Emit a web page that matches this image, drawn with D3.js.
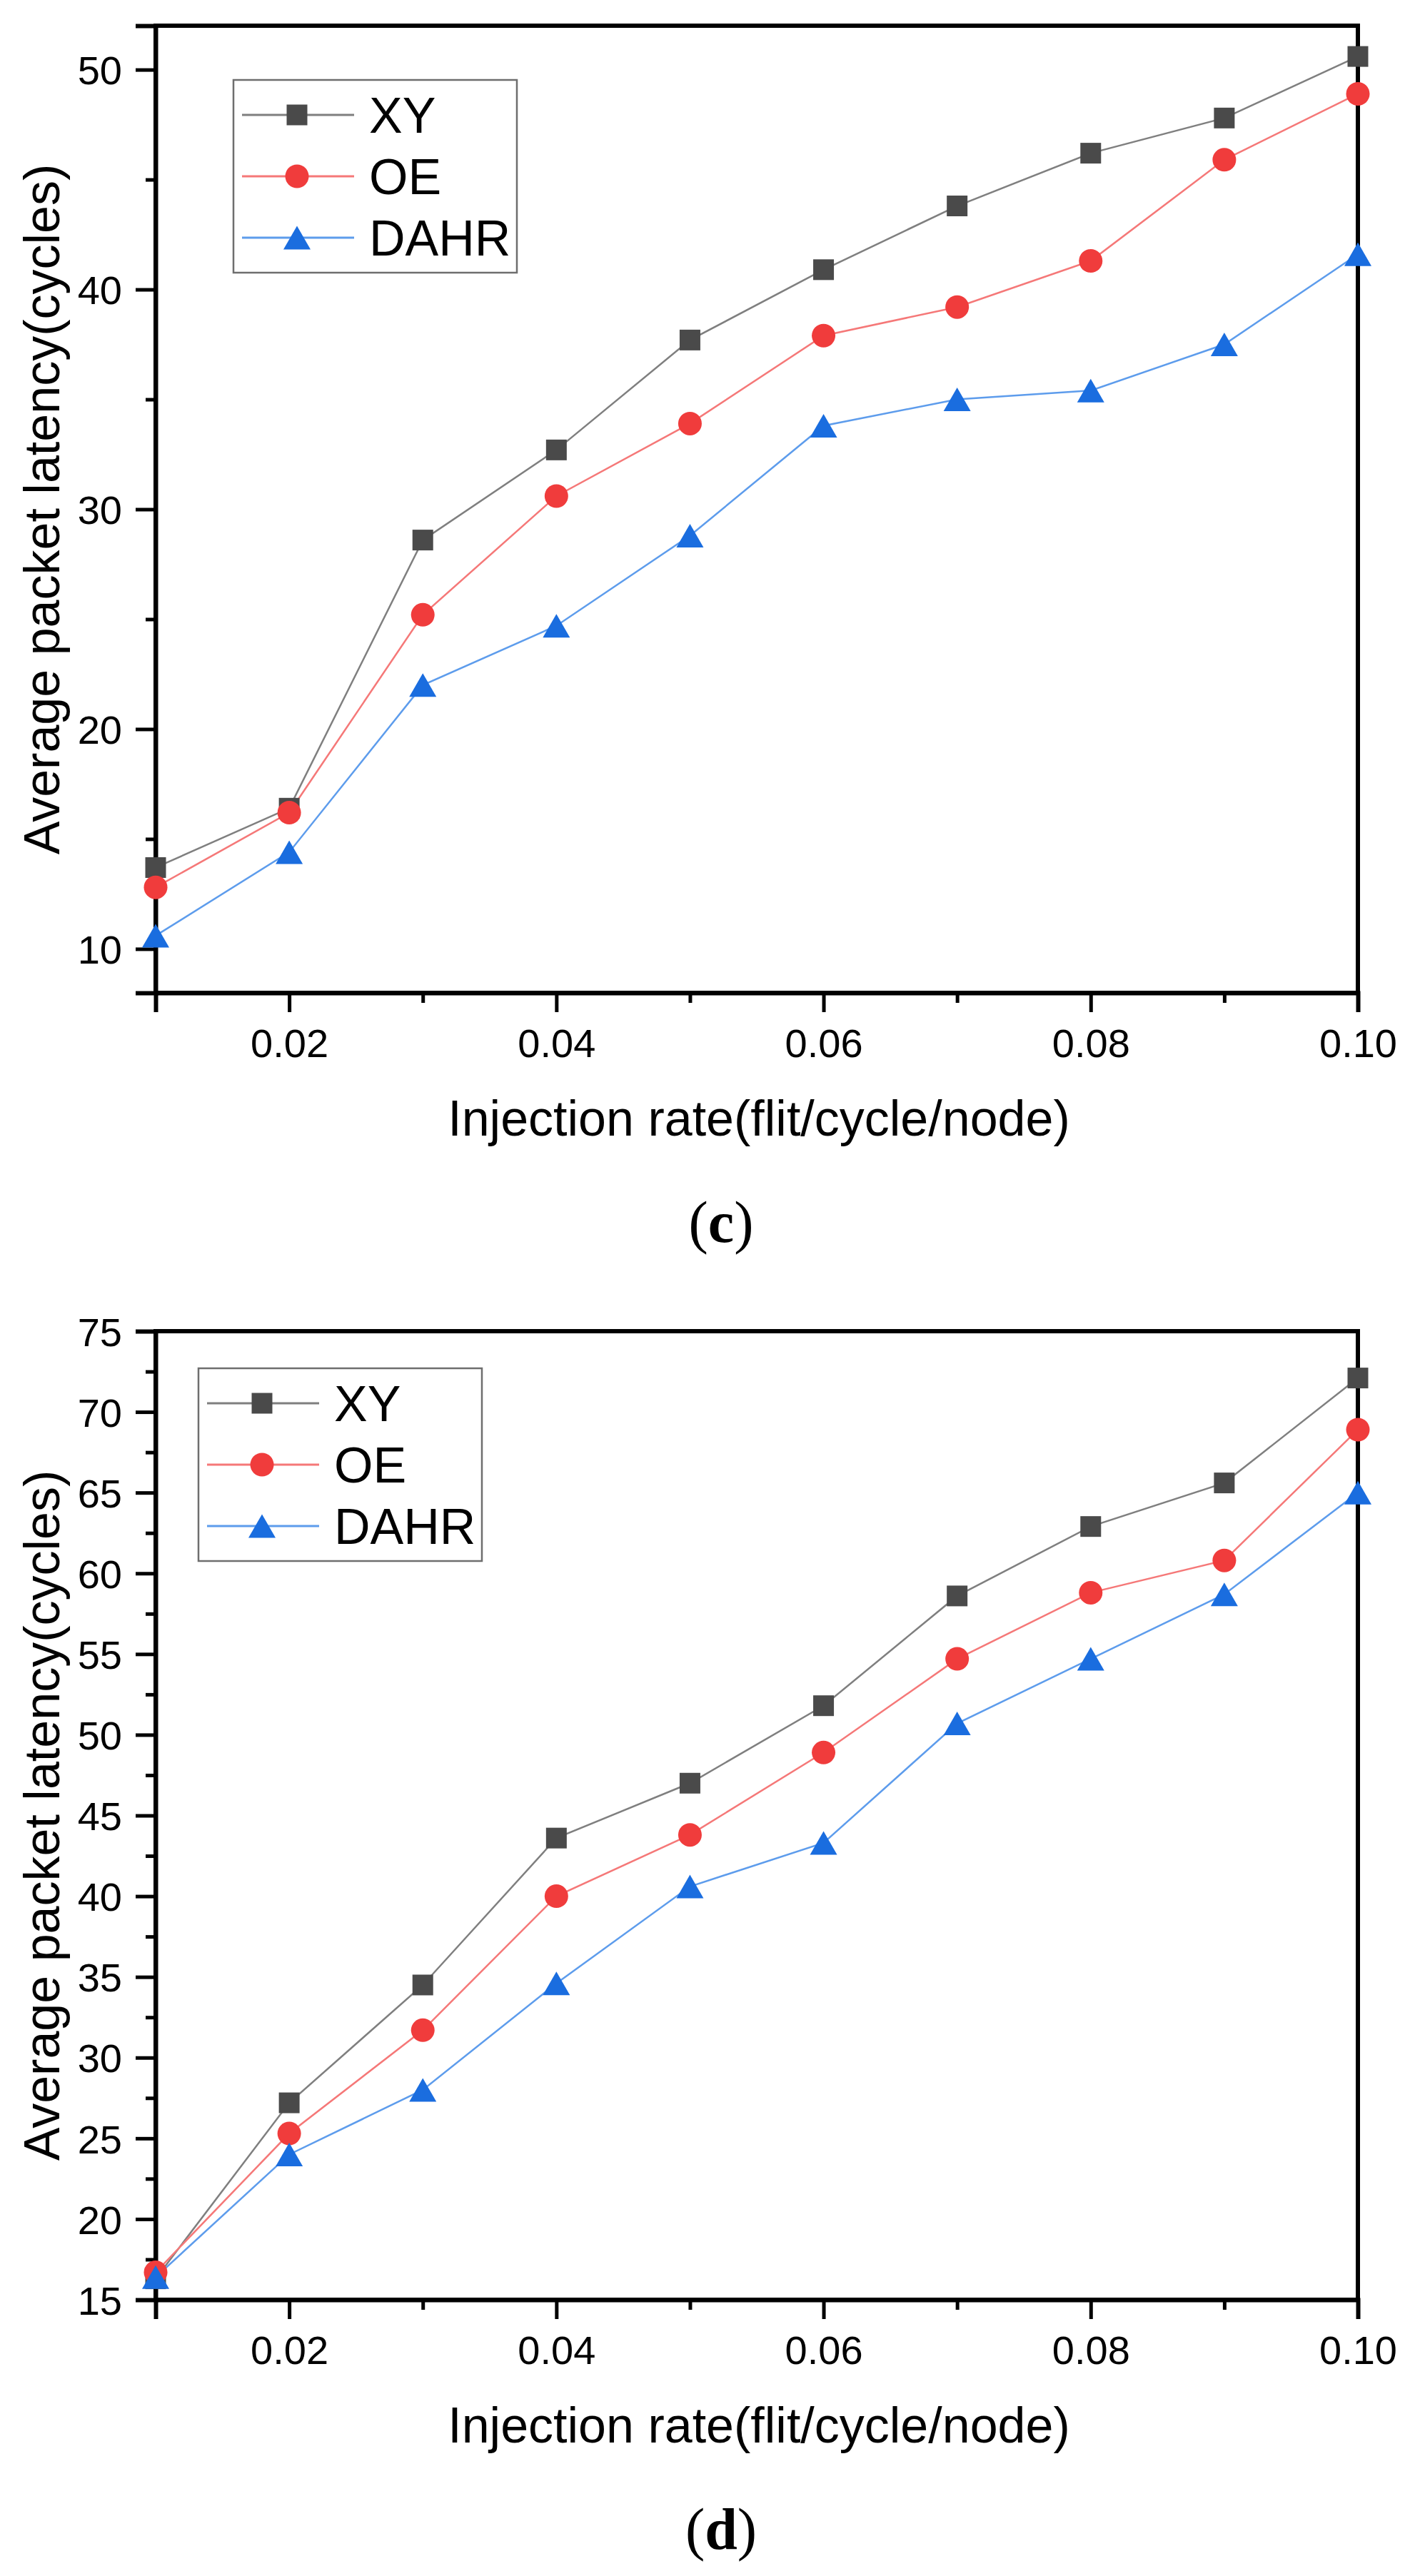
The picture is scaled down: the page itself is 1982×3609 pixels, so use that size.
<!DOCTYPE html>
<html>
<head>
<meta charset="utf-8">
<script src="https://cdn.jsdelivr.net/npm/d3@7/dist/d3.min.js"></script>
<style>
  html, body { margin: 0; padding: 0; background: #fff; }
  svg { display: block; }
  text { font-family: "Liberation Sans", Arial, sans-serif; fill: #000; }
</style>
</head>
<body>
<svg id="chart" width="1982" height="3609"></svg>
<script>
// ---------- data ----------
const injectionRates = [0.01, 0.02, 0.03, 0.04, 0.05, 0.06, 0.07, 0.08, 0.09, 0.10];
const seriesNames = ["XY", "OE", "DAHR"];

// panel (c)
const cXY   = [13.7, 16.4, 28.6, 32.7, 37.7, 40.9, 43.8, 46.2, 47.8, 50.6];
const cOE   = [12.8, 16.2, 25.2, 30.6, 33.9, 37.9, 39.2, 41.3, 45.9, 48.9];
const cDAHR = [10.6, 14.4, 22.0, 24.7, 28.8, 33.8, 35.0, 35.4, 37.5, 41.6];

// panel (d)
const dXY   = [16.3, 27.2, 34.5, 43.6, 47.0, 51.8, 58.6, 62.9, 65.6, 72.1];
const dOE   = [16.7, 25.3, 31.7, 40.0, 43.8, 48.9, 54.7, 58.8, 60.8, 68.9];
const dDAHR = [16.4, 24.0, 28.0, 34.6, 40.6, 43.3, 50.7, 54.7, 58.7, 65.0];

const xTickMajor = [0.02, 0.04, 0.06, 0.08, 0.10];
const xTickMinor = [0.01, 0.03, 0.05, 0.07, 0.09];
const cYTicks = [10, 20, 30, 40, 50];
const cYMinor = [15, 25, 35, 45];
const dYTicks = [15, 20, 25, 30, 35, 40, 45, 50, 55, 60, 65, 70, 75];
const dYMinor = [17.5, 22.5, 27.5, 32.5, 37.5, 42.5, 47.5, 52.5, 57.5, 62.5, 67.5, 72.5];

const xTitle = "Injection rate(flit/cycle/node)";
const yTitle = "Average packet latency(cycles)";

// ---------- styles ----------
const lineColors   = ["#7f7f7f", "#f57878", "#5d9cec"];
const markerColors = ["#4a4a4a", "#f03c3c", "#1a6ddf"];
const markerShapes = ["square", "circle", "triangle"];

const svg = d3.select("#chart");

function markerPath(shape) {
  if (shape === "square") return "M-14.5,-14.5H14.5V14.5H-14.5Z";
  if (shape === "circle") return d3.symbol(d3.symbolCircle, Math.PI * 16.5 * 16.5)();
  return "M0,-16.5L19,16.5L-19,16.5Z";
}

function drawPanel(cfg) {
  const g = svg.append("g");
  const x = d3.scaleLinear().domain([0.01, 0.10]).range([cfg.left, cfg.right]);
  const y = d3.scaleLinear().domain(cfg.yDomain).range([cfg.bottom, cfg.top]);

  // frame
  g.append("rect")
    .attr("x", cfg.left).attr("y", cfg.top)
    .attr("width", cfg.right - cfg.left).attr("height", cfg.bottom - cfg.top)
    .attr("fill", "none").attr("stroke", "#000").attr("stroke-width", 6);

  // bottom axis
  const xAxis = d3.axisBottom(x).tickValues(xTickMajor).tickSize(27).tickPadding(0)
    .tickFormat(d3.format(".2f"));
  const gx = g.append("g").attr("transform", `translate(0,${cfg.bottom})`).call(xAxis);
  gx.select(".domain").attr("stroke-width", 6);
  gx.selectAll(".tick line").attr("stroke-width", 5);
  gx.selectAll(".tick text").attr("font-size", 56).attr("dy", null).attr("y", 90)
    .style("font-family", "'Liberation Sans', Arial, sans-serif");
  const gxm = g.append("g").attr("transform", `translate(0,${cfg.bottom})`)
    .call(d3.axisBottom(x).tickValues(xTickMinor).tickSize(14).tickFormat(""));
  gxm.select(".domain").remove();
  gxm.selectAll(".tick line").attr("stroke-width", 5);

  // left axis
  const yAxis = d3.axisLeft(y).tickValues(cfg.yTicks).tickSize(28).tickPadding(19)
    .tickFormat(d3.format("d"));
  const gy = g.append("g").attr("transform", `translate(${cfg.left},0)`).call(yAxis);
  gy.select(".domain").attr("stroke-width", 6);
  gy.selectAll(".tick line").attr("stroke-width", 5);
  gy.selectAll(".tick text").attr("font-size", 56).attr("dy", "0.36em")
    .style("font-family", "'Liberation Sans', Arial, sans-serif");
  const gym = g.append("g").attr("transform", `translate(${cfg.left},0)`)
    .call(d3.axisLeft(y).tickValues(cfg.yMinor).tickSize(14).tickFormat(""));
  gym.select(".domain").remove();
  gym.selectAll(".tick line").attr("stroke-width", 5);

  // titles
  g.append("text")
    .attr("x", (cfg.left + cfg.right) / 2 + 3).attr("y", cfg.bottom + 200)
    .attr("text-anchor", "middle").attr("font-size", 70).text(xTitle);
  const cy = (cfg.top + cfg.bottom) / 2;
  g.append("text")
    .attr("transform", `translate(83,${cy}) rotate(-90)`)
    .attr("text-anchor", "middle").attr("font-size", 70).text(yTitle);

  // panel label
  const lbl = g.append("text")
    .attr("x", 1010).attr("y", cfg.bottom + 349)
    .attr("text-anchor", "middle").attr("font-size", 82)
    .style("font-family", "'Liberation Serif', 'Times New Roman', serif");
  lbl.append("tspan").text("(");
  lbl.append("tspan").attr("font-weight", "bold").text(cfg.label);
  lbl.append("tspan").text(")");

  // series
  const line = d3.line().x((d, i) => x(injectionRates[i])).y(d => y(d));
  cfg.series.forEach((vals, k) => {
    g.append("path").datum(vals)
      .attr("d", line).attr("fill", "none")
      .attr("stroke", lineColors[k]).attr("stroke-width", 2.5);
  });
  cfg.series.forEach((vals, k) => {
    g.selectAll(null).data(vals).enter().append("path")
      .attr("d", markerPath(markerShapes[k]))
      .attr("transform", (d, i) => `translate(${x(injectionRates[i])},${y(d)})`)
      .attr("fill", markerColors[k]);
  });

  // legend
  const L = cfg.legend;
  g.append("rect").attr("x", L.x).attr("y", L.y).attr("width", 397).attr("height", 270)
    .attr("fill", "#fff").attr("stroke", "#6e6e6e").attr("stroke-width", 2.5);
  const rowOff = [49, 135, 221];
  seriesNames.forEach((name, k) => {
    const ry = L.y + rowOff[k];
    g.append("line").attr("x1", L.x + 12).attr("x2", L.x + 169)
      .attr("y1", ry).attr("y2", ry)
      .attr("stroke", lineColors[k]).attr("stroke-width", 3);
    g.append("path").attr("d", markerPath(markerShapes[k]))
      .attr("transform", `translate(${L.x + 89},${ry})`)
      .attr("fill", markerColors[k]);
    g.append("text").attr("x", L.x + 190).attr("y", ry + 25)
      .attr("font-size", 70).text(name);
  });
}

drawPanel({
  left: 218, right: 1902, top: 36, bottom: 1391,
  yDomain: [8, 52], yTicks: cYTicks, yMinor: cYMinor,
  series: [cXY, cOE, cDAHR], label: "c",
  legend: { x: 327, y: 112 }
});

drawPanel({
  left: 218, right: 1902, top: 1865, bottom: 3222,
  yDomain: [15, 75], yTicks: dYTicks, yMinor: dYMinor,
  series: [dXY, dOE, dDAHR], label: "d",
  legend: { x: 278, y: 1917 }
});
</script>
</body>
</html>
